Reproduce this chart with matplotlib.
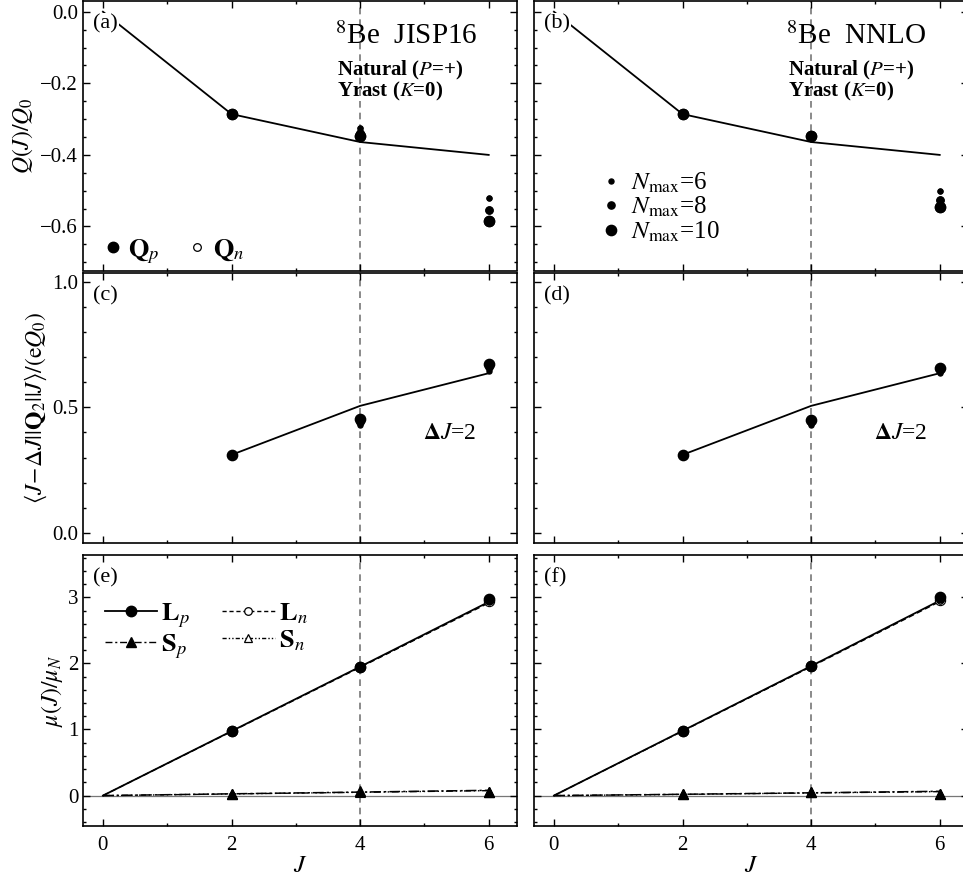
import matplotlib
matplotlib.use("Agg")
import matplotlib.pyplot as plt
from matplotlib.lines import Line2D
from matplotlib.ticker import MultipleLocator, NullFormatter

plt.rcParams['font.family'] = ['Liberation Serif', 'DejaVu Serif']
plt.rcParams['mathtext.fontset'] = 'stix'

# ---------------- data ----------------
J_line = [0, 2, 4, 6]
J_pts = [2, 4, 6]
J_e2 = [2, 4, 6]
nmax_list = [6, 8, 10]

# Quadrupole moments Q(J)/Q0
Q_line_a = [0.0, -0.286, -0.364, -0.400]
Q_line_b = [0.0, -0.286, -0.364, -0.400]
Qp_a = {6: [-0.285, -0.325, -0.520], 8: [-0.285, -0.338, -0.553], 10: [-0.285, -0.348, -0.586]}
Qn_a = {6: [-0.285, -0.325, -0.520], 8: [-0.285, -0.338, -0.553], 10: [-0.285, -0.348, -0.586]}
Qp_b = {6: [-0.285, -0.345, -0.502], 8: [-0.285, -0.345, -0.525], 10: [-0.285, -0.348, -0.546]}
Qn_b = {6: [-0.285, -0.345, -0.502], 8: [-0.285, -0.345, -0.525], 10: [-0.285, -0.348, -0.546]}

# E2 reduced matrix elements
E2_line_c = [0.311, 0.506, 0.636]
E2_line_d = [0.311, 0.506, 0.636]
E2_c = {6: [0.311, 0.430, 0.645], 8: [0.311, 0.440, 0.660], 10: [0.311, 0.452, 0.672]}
E2_d = {6: [0.311, 0.428, 0.635], 8: [0.311, 0.440, 0.648], 10: [0.311, 0.450, 0.658]}

# Magnetic dipole contributions
Lp_line_e = [0.0, 0.975, 1.950, 2.930]
Ln_line_e = [0.0, 0.970, 1.940, 2.915]
Sp_line_e = [0.0, 0.027, 0.053, 0.080]
Sn_line_e = [0.0, 0.025, 0.050, 0.075]
Lp_e = {6: [0.975, 1.940, 2.960], 8: [0.975, 1.945, 2.970], 10: [0.975, 1.945, 2.980]}
Ln_e = {6: [0.970, 1.935, 2.940], 8: [0.970, 1.940, 2.945], 10: [0.970, 1.940, 2.950]}
Sp_e = {6: [0.030, 0.060, 0.060], 8: [0.030, 0.060, 0.060], 10: [0.030, 0.065, 0.060]}
Sn_e = {6: [0.028, 0.055, 0.058], 8: [0.028, 0.055, 0.058], 10: [0.028, 0.058, 0.058]}

Lp_line_f = [0.0, 0.980, 1.960, 2.950]
Ln_line_f = [0.0, 0.975, 1.950, 2.935]
Sp_line_f = [0.0, 0.020, 0.042, 0.065]
Sn_line_f = [0.0, 0.018, 0.040, 0.060]
Lp_f = {6: [0.980, 1.955, 2.980], 8: [0.980, 1.960, 2.990], 10: [0.980, 1.960, 3.000]}
Ln_f = {6: [0.975, 1.950, 2.950], 8: [0.975, 1.950, 2.955], 10: [0.975, 1.955, 2.960]}
Sp_f = {6: [0.030, 0.050, 0.030], 8: [0.030, 0.050, 0.030], 10: [0.030, 0.050, 0.030]}
Sn_f = {6: [0.028, 0.048, 0.028], 8: [0.028, 0.048, 0.028], 10: [0.028, 0.048, 0.028]}

msize = {6: 3.6, 8: 5.2, 10: 7.4}

# ---------------- figure ----------------
W, H = 963, 876
fig = plt.figure(figsize=(W / 100, H / 100), dpi=100)

def box(x0, x1, ytop, ybot):
    return [x0 / W, 1 - ybot / H, (x1 - x0) / W, (ybot - ytop) / H]

colx = [(83, 517), (534, 968)]
rowy = [(1, 270.5), (273, 543), (555, 826)]

axes = [[fig.add_axes(box(colx[c][0], colx[c][1], rowy[r][0], rowy[r][1])) for c in range(2)] for r in range(3)]

ylims = [(-0.723, 0.03), (-0.04, 1.035), (-0.46, 3.64)]
ymaj = [0.2, 0.5, 1.0]
ymin = [0.05, 0.1, 0.2]

for r in range(3):
    for c in range(2):
        ax = axes[r][c]
        ax.set_xlim(-0.31, 6.44)
        ax.set_ylim(*ylims[r])
        ax.xaxis.set_major_locator(MultipleLocator(2))
        ax.xaxis.set_minor_locator(MultipleLocator(1))
        ax.yaxis.set_major_locator(MultipleLocator(ymaj[r]))
        ax.yaxis.set_minor_locator(MultipleLocator(ymin[r]))
        ax.tick_params(which='both', direction='in', top=True, right=True, labelsize=15, width=1.0)
        ax.tick_params(which='major', length=5)
        ax.tick_params(which='minor', length=2.5)
        ax.tick_params(axis='x', pad=7)
        for s in ax.spines.values():
            s.set_linewidth(1.2)
        ax.axvline(4, color='#777777', ls=(0, (4, 3)), lw=1.2, zorder=1)
        if r < 2:
            ax.xaxis.set_major_formatter(NullFormatter())
        else:
            ax.set_xlabel('$J$', fontsize=18, labelpad=0)
        if c == 1:
            ax.yaxis.set_major_formatter(NullFormatter())
        else:
            if r == 0:
                ax.set_yticks([0.0, -0.2, -0.4, -0.6])
                ax.set_yticklabels(['0.0', '\u22120.2', '\u22120.4', '\u22120.6'])
            elif r == 1:
                ax.set_yticks([0.0, 0.5, 1.0])
                ax.set_yticklabels(['0.0', '0.5', '1.0'])

# panel labels
labels = [['(a)', '(b)'], ['(c)', '(d)'], ['(e)', '(f)']]
for r in range(3):
    for c in range(2):
        axes[r][c].text(0.022, 0.915, labels[r][c], transform=axes[r][c].transAxes,
                        fontsize=16, va='center', ha='left', zorder=5,
                        bbox=dict(facecolor='white', edgecolor='none', pad=1.0))

# ---- row 0: quadrupole moments ----
for c, (Qline, Qp, Qn, name) in enumerate([(Q_line_a, Qp_a, Qn_a, 'JISP16'), (Q_line_b, Qp_b, Qn_b, 'NNLO')]):
    ax = axes[0][c]
    ax.plot(J_line, Qline, color='black', lw=1.3, zorder=2)
    for n in nmax_list[::-1]:
        ax.plot(J_pts, Qn[n], 'o', mfc='white', mec='black', ms=msize[n], mew=0.8, ls='none', zorder=3)
        ax.plot(J_pts, Qp[n], 'o', color='black', ms=msize[n], ls='none', zorder=4)
    ax.text(0.58, 0.868, '$^{8}$Be  ' + name, transform=ax.transAxes, fontsize=21, va='center', ha='left')
    ax.text(0.585, 0.742, 'Natural ($\\mathbf{\\mathit{P}}$=+)', transform=ax.transAxes, fontsize=15,
            va='center', ha='left', fontweight='bold')
    ax.text(0.585, 0.665, 'Yrast ($\\mathbf{\\mathit{K}}$=0)', transform=ax.transAxes, fontsize=15,
            va='center', ha='left', fontweight='bold')
axes[0][0].set_ylabel('$Q(J)/Q_0$', fontsize=17, labelpad=4)

h_qp = Line2D([], [], marker='o', color='black', ls='none', ms=7.5)
h_qn = Line2D([], [], marker='o', mfc='white', mec='black', ls='none', ms=5.5, mew=0.9)
axes[0][0].legend([h_qp, h_qn], ['$\\mathbf{Q}_{p}$', '$\\mathbf{Q}_{n}$'], loc='center left',
                  bbox_to_anchor=(0.05, 0.07), ncol=2, frameon=False, fontsize=19,
                  handlelength=0.6, handletextpad=0.3, columnspacing=1.1, borderpad=0.0, borderaxespad=0.0)

hn = [Line2D([], [], marker='o', color='black', ls='none', ms=msize[n]) for n in nmax_list]
axes[0][1].legend(hn, ['$N_{\\mathrm{max}}$=%d' % n for n in nmax_list], loc='lower left',
                  bbox_to_anchor=(0.16, 0.1), frameon=False, fontsize=18,
                  handlelength=0.6, handletextpad=0.5, labelspacing=0.0, borderpad=0.0, borderaxespad=0.0)

# ---- row 1: E2 ----
for c, (line, pts) in enumerate([(E2_line_c, E2_c), (E2_line_d, E2_d)]):
    ax = axes[1][c]
    ax.plot(J_e2, line, color='black', lw=1.3, zorder=2)
    for n in nmax_list[::-1]:
        ax.plot(J_pts, pts[n], 'o', color='black', ms=msize[n], ls='none', zorder=4)
    ax.text(0.783, 0.405, '$\\mathbf{\\Delta} \\mathbf{\\mathit{J}}$=2', transform=ax.transAxes, fontsize=17,
            va='center', ha='left')
axes[1][0].set_ylabel('$\\langle J\\!-\\!\\Delta J||\\mathbf{Q}_2||J\\rangle/(\\mathrm{e}Q_0)$', fontsize=17, labelpad=2)

# ---- row 2: magnetic ----
for c, (Lpl, Lnl, Spl, Snl, Lp, Ln, Sp, Sn) in enumerate([
        (Lp_line_e, Ln_line_e, Sp_line_e, Sn_line_e, Lp_e, Ln_e, Sp_e, Sn_e),
        (Lp_line_f, Ln_line_f, Sp_line_f, Sn_line_f, Lp_f, Ln_f, Sp_f, Sn_f)]):
    ax = axes[2][c]
    ax.axhline(0, color='#777777', lw=0.9, zorder=1)
    ax.plot(J_line, Lnl, color='black', lw=1.0, ls=(0, (4, 2.5)), zorder=2)
    ax.plot(J_line, Lpl, color='black', lw=1.3, zorder=2)
    ax.plot(J_line, Snl, color='black', lw=1.0, ls=(0, (5, 2, 1, 2, 1, 2)), zorder=2)
    ax.plot(J_line, Spl, color='black', lw=1.1, ls=(0, (7, 2, 1.5, 2)), zorder=2)
    for n in nmax_list[::-1]:
        ax.plot(J_pts, Ln[n], 'o', mfc='white', mec='black', ms=msize[n], mew=0.8, ls='none', zorder=3)
        ax.plot(J_pts, Sn[n], '^', mfc='white', mec='black', ms=msize[n], mew=0.8, ls='none', zorder=3)
    for n in nmax_list[::-1]:
        ax.plot(J_pts, Lp[n], 'o', color='black', ms=msize[n], ls='none', zorder=4)
        ax.plot(J_pts, Sp[n], '^', color='black', ms=msize[n], ls='none', zorder=4)
axes[2][0].set_ylabel('$\\mu(J)/\\mu_N$', fontsize=17, labelpad=2)
axes[2][0].set_yticks([0, 1, 2, 3])

h_lp = Line2D([], [], color='black', lw=1.3, marker='o', ms=7.5)
h_ln = Line2D([], [], color='black', lw=1.0, ls=(0, (3, 2)), marker='o', mfc='white', mec='black', ms=5.5, mew=0.9)
h_sp = Line2D([], [], color='black', lw=1.0, ls=(0, (5, 2, 1.5, 2)), marker='^', ms=6.5)
h_sn = Line2D([], [], color='black', lw=1.0, ls=(0, (3, 1.5, 1, 1.5, 1, 1.5)), marker='^', mfc='white', mec='black', ms=6, mew=0.9)
axes[2][0].legend([h_lp, h_sp, h_ln, h_sn],
                  ['$\\mathbf{L}_{p}$', '$\\mathbf{S}_{p}$', '$\\mathbf{L}_{n}$', '$\\mathbf{S}_{n}$'],
                  loc='upper left', bbox_to_anchor=(0.05, 0.83), ncol=2, frameon=False, fontsize=19,
                  handlelength=2.0, handletextpad=0.15, columnspacing=1.2, labelspacing=0.1,
                  borderpad=0.0, borderaxespad=0.0)

fig.savefig('out.png', dpi=100)
